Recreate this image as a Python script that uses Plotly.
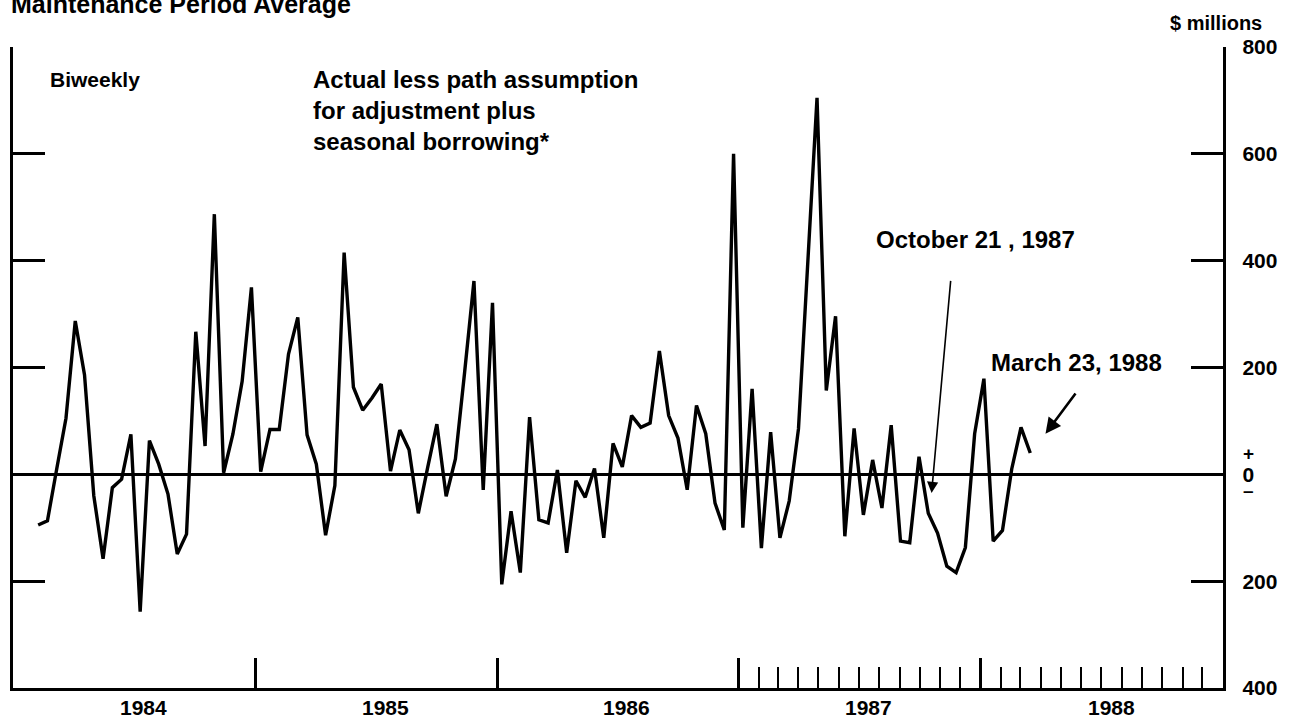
import pandas as pd
import plotly.graph_objects as go

# ---- data (biweekly maintenance-period averages, $ millions) ----
values = [
    -95, -87, 10, 105, 287, 186, -40, -158, -25, -9,
    75, -257, 63, 19, -37, -149, -112, 267, 53, 487,
    3, 75, 174, 350, 5, 84, 84, 225, 294, 74,
    19, -114, -21, 415, 163, 120, 143, 169, 6, 83,
    46, -73, 12, 94, -41, 29, 192, 362, -29, 321,
    -206, -69, -184, 107, -85, -91, 8, -147, -12, -43,
    11, -119, 58, 14, 110, 88, 96, 231, 110, 68,
    -29, 129, 76, -54, -104, 600, -100, 160, -138, 79,
    -119, -50, 85, 399, 705, 157, 296, -116, 86, -76,
    27, -63, 92, -125, -128, 33, -73, -110, -172, -184,
    -137, 76, 179, -125, -105, 10, 88, 40,
]
dates = pd.date_range("1984-02-08", periods=len(values), freq="14D")

year_labels = ["1984", "1985", "1986", "1987", "1988"]
year_label_pos = ["1984-07-16", "1985-07-16", "1986-07-16", "1987-07-16", "1988-07-16"]
year_ticks = ["1985-01-01", "1986-01-01", "1987-01-01", "1988-01-01"]
month_ticks = [f"{y}-{m:02d}-01" for y in (1987, 1988) for m in range(2, 13)]

y_tickvals = [-400, -200, 0, 200, 400, 600, 800]
y_ticktext = ["400", "200", "0", "200", "400", "600", "800"]

FONT = "Liberation Sans, Arial, Helvetica, sans-serif"

fig = go.Figure()
fig.add_trace(go.Scatter(
    x=dates, y=values, mode="lines",
    line=dict(color="black", width=3.4),
    hoverinfo="skip", showlegend=False,
))

ann = []
def txt(text, x, y, size, xanchor="left", yanchor="middle", xref="paper", yref="paper", **kw):
    ann.append(dict(text=text, x=x, y=y, xref=xref, yref=yref, showarrow=False,
                    xanchor=xanchor, yanchor=yanchor, align="left",
                    font=dict(family=FONT, size=size, color="black"), **kw))

W0, W1 = 10, 1223
T0, B0 = 47, 688
def px(xp):
    return (xp - W0) / (W1 - W0)
def py(yp):
    return (B0 - yp) / (B0 - T0)

txt("<b>Maintenance Period Average</b>", px(6), py(20), 25, yanchor="bottom")
txt("<b>$ millions</b>", px(1264), py(23), 20, xanchor="right")
txt("<b>Biweekly</b>", px(45), py(80), 21)
txt("<b>Actual less path assumption<br>for adjustment plus<br>seasonal borrowing*</b>",
    px(309), py(64), 24, yanchor="top")
txt("<b>October 21 , 1987</b>", px(873), py(240), 24)
txt("<b>March 23, 1988</b>", px(988), py(362), 24)

for lab, pos in zip(year_labels, year_label_pos):
    txt(f"<b>{lab}</b>", pos, py(707), 21, xanchor="center", xref="x")

# +/- around the zero label
txt("<b>+</b>", 1, 0, 19, xanchor="center", yref="y", xshift=25, yshift=21)
txt("<b>–</b>", 1, 0, 19, xanchor="center", yref="y", xshift=25, yshift=-16)

# arrows
ann.append(dict(x="1987-10-19", y=-35, ax="1987-11-17", ay=365, xref="x", yref="y",
                axref="x", ayref="y", text="", showarrow=True, arrowhead=2,
                arrowsize=1.4, arrowwidth=1.6, arrowcolor="black", standoff=0))
ann.append(dict(x="1988-04-08", y=76, ax="1988-05-25", ay=154, xref="x", yref="y",
                axref="x", ayref="y", text="", showarrow=True, arrowhead=2,
                arrowsize=1.2, arrowwidth=2.6, arrowcolor="black", standoff=0))

fig.update_layout(
    width=1299, height=724,
    margin=dict(l=W0, r=1299 - W1, t=T0, b=724 - B0),
    paper_bgcolor="white", plot_bgcolor="white",
    font=dict(family=FONT, color="black"),
    annotations=ann,
    xaxis=dict(
        type="date", range=["1984-01-01", "1989-01-01"],
        showline=True, linecolor="black", linewidth=3.4,
        ticks="inside", tickmode="array", tickvals=year_ticks,
        ticklen=30, tickwidth=2.5, tickcolor="black",
        showticklabels=False, showgrid=False, zeroline=False,
        minor=dict(tickmode="array", tickvals=month_ticks, ticks="inside",
                   ticklen=21, tickwidth=2.2, tickcolor="black", showgrid=False),
    ),
    yaxis=dict(
        side="right", range=[-400, 800],
        tickmode="array", tickvals=y_tickvals, ticktext=y_ticktext,
        ticks="inside", ticklen=32, tickwidth=3.2, tickcolor="black",
        showline=True, linecolor="black", linewidth=3.4, mirror="ticks",
        zeroline=True, zerolinecolor="black", zerolinewidth=3.2,
        showgrid=False, ticklabelstandoff=12,
        tickfont=dict(family=FONT, size=21, color="black", weight="bold"),
    ),
)

fig.write_html(
    "out.html",
    config={"displayModeBar": False},
    post_script="document.body.style.margin='0px';document.body.style.overflow='hidden';",
)
